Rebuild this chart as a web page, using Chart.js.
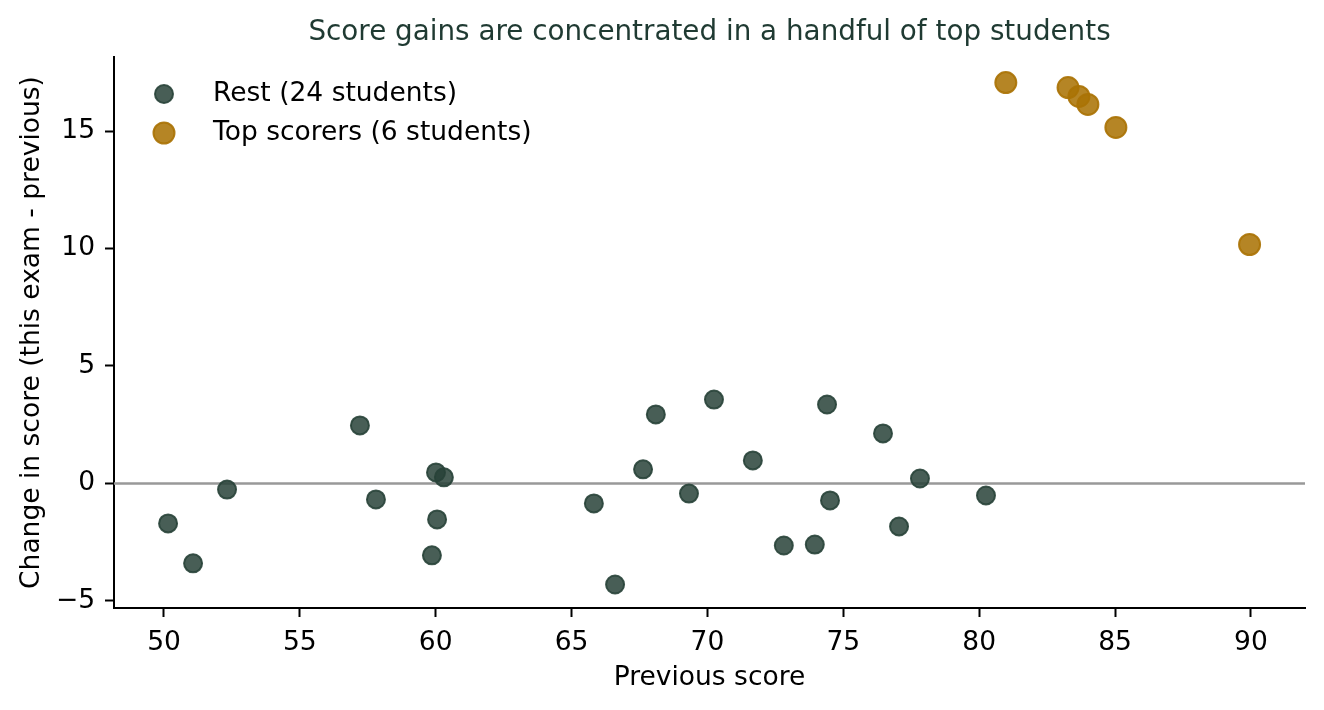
<!DOCTYPE html>
<html>
<head>
<meta charset="utf-8">
<script src="https://cdn.jsdelivr.net/npm/chart.js@4"></script>
<style>
  html, body { margin: 0; padding: 0; background: #fff; }
  #wrap { width: 1324px; height: 710px; }
</style>
</head>
<body>
<div id="wrap"><canvas id="myChart" width="1324" height="710"></canvas></div>
<script>
// values
const restX = [50.15, 51.07, 52.32, 57.21, 57.80, 59.86, 60.01, 60.30, 60.05, 65.82, 66.60, 67.63,
               68.10, 69.32, 70.24, 71.67, 72.81, 73.95, 74.40, 74.51, 76.46, 77.05, 77.82, 80.25];
const restY = [-1.70, -3.40, -0.26, 2.47, -0.68, -3.06, 0.47, 0.26, -1.53, -0.85, -4.30, 0.60,
               2.94, -0.43, 3.57, 0.98, -2.64, -2.60, 3.36, -0.72, 2.13, -1.83, 0.21, -0.51];
const topX = [80.98, 83.27, 83.67, 84.00, 85.03, 89.95];
const topY = [17.06, 16.85, 16.47, 16.13, 15.15, 10.17];
const xTicks = [50, 55, 60, 65, 70, 75, 80, 85, 90];
const yTicks = [-5, 0, 5, 10, 15];

const FONT = "'DejaVu Sans', sans-serif";

function toPoints(xs, ys) {
    return xs.map(function (x, i) { return { x: x, y: ys[i] }; });
}

// grey reference line at zero, title and in-plot legend
const extras = {
    id: 'extras',
    beforeDatasetsDraw: function (chart) {
        const ctx = chart.ctx, area = chart.chartArea;
        const y0 = chart.scales.y.getPixelForValue(0);
        ctx.save();
        ctx.strokeStyle = '#999999';
        ctx.lineWidth = 2.5;
        ctx.beginPath();
        ctx.moveTo(area.left, y0);
        ctx.lineTo(area.right, y0);
        ctx.stroke();
        ctx.restore();
    },
    afterDraw: function (chart) {
        const ctx = chart.ctx, area = chart.chartArea;
        ctx.save();
        ctx.fillStyle = '#1f3a32';
        ctx.font = "27.8px " + FONT;
        ctx.textAlign = 'center';
        ctx.textBaseline = 'middle';
        ctx.fillText('Score gains are concentrated in a handful of top students', (area.left + area.right) / 2, 33);

        chart.data.datasets.forEach(function (ds, i) {
            const cy = 94 + i * 39;
            ctx.beginPath();
            ctx.arc(164, cy, ds.pointRadius, 0, Math.PI * 2);
            ctx.fillStyle = ds.backgroundColor;
            ctx.fill();
            ctx.lineWidth = ds.borderWidth;
            ctx.strokeStyle = ds.borderColor;
            ctx.stroke();
            ctx.fillStyle = '#000';
            ctx.textAlign = 'left';
            ctx.font = "26.5px " + FONT;
            ctx.fillText(ds.label, 213, cy);
        });
        ctx.restore();
    }
};

new Chart(document.getElementById("myChart"), {
    type: 'scatter',
    data: {
        datasets: [{
            label: 'Rest (24 students)',
            data: toPoints(restX, restY),
            pointRadius: 9,
            pointHoverRadius: 9,
            borderWidth: 2,
            backgroundColor: 'rgba(40,66,56,0.85)',
            borderColor: 'rgba(40,66,56,0.9)'
        }, {
            label: 'Top scorers (6 students)',
            data: toPoints(topX, topY),
            pointRadius: 10.5,
            pointHoverRadius: 10.5,
            borderWidth: 2,
            backgroundColor: 'rgba(170,115,5,0.87)',
            borderColor: 'rgba(170,115,5,0.92)'
        }]
    },
    options: {
        responsive: false,
        animation: false,
        devicePixelRatio: 1,
        layout: { padding: { left: 0, right: 19, top: 57, bottom: 0 } },
        plugins: {
            legend: { display: false },
            title: { display: false },
            tooltip: { enabled: false }
        },
        scales: {
            x: {
                type: 'linear',
                min: 48.16,
                max: 91.99,
                afterBuildTicks: function (scale) {
                    scale.ticks = xTicks.map(function (v) { return { value: v }; });
                },
                afterFit: function (scale) { scale.height = 102; },
                grid: { drawOnChartArea: false, drawTicks: true, tickLength: 9, tickWidth: 2, tickColor: '#000' },
                border: { display: true, color: '#000', width: 2 },
                ticks: { color: '#000', font: { family: FONT, size: 26.5 }, padding: 10, maxRotation: 0 },
                title: { display: true, text: 'Previous score', color: '#000',
                         font: { family: FONT, size: 26.5 }, padding: { top: 0, bottom: 16 } }
            },
            y: {
                type: 'linear',
                min: -5.3,
                max: 18.15,
                afterBuildTicks: function (scale) {
                    scale.ticks = yTicks.map(function (v) { return { value: v }; });
                },
                afterFit: function (scale) { scale.width = 114; },
                grid: { drawOnChartArea: false, drawTicks: true, tickLength: 9, tickWidth: 2, tickColor: '#000' },
                border: { display: true, color: '#000', width: 2 },
                ticks: {
                    color: '#000', font: { family: FONT, size: 26.5 }, padding: 10,
                    callback: function (value) { return String(value).replace('-', '\u2212'); }
                },
                title: { display: true, text: 'Change in score (this exam - previous)', color: '#000',
                         font: { family: FONT, size: 26.5 }, padding: { top: 16, bottom: 0 } }
            }
        }
    },
    plugins: [extras]
});
</script>
</body>
</html>
